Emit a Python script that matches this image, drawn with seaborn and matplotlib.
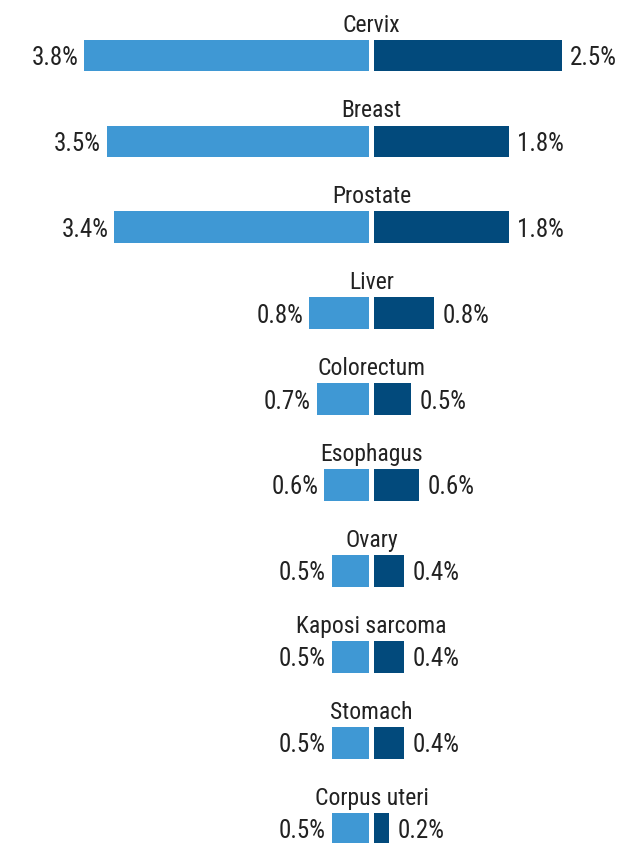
import matplotlib
matplotlib.use("Agg")
import matplotlib.pyplot as plt
import matplotlib.transforms as mtransforms
import seaborn as sns
import pandas as pd

categories = ["Cervix", "Breast", "Prostate", "Liver", "Colorectum", "Esophagus",
              "Ovary", "Kaposi sarcoma", "Stomach", "Corpus uteri"]
left_values = [3.8, 3.5, 3.4, 0.8, 0.7, 0.6, 0.5, 0.5, 0.5, 0.5]
right_values = [2.5, 1.8, 1.8, 0.8, 0.5, 0.6, 0.4, 0.4, 0.4, 0.2]
left_labels = [f"{v:.1f}%" for v in left_values]
right_labels = [f"{v:.1f}%" for v in right_values]

LIGHT = "#3f98d4"
DARK = "#024a7c"
TEXT = "#222222"

sns.set_style("white")
plt.rcParams["font.family"] = ["Roboto Condensed", "DejaVu Sans"]
plt.rcParams["font.stretch"] = "condensed"

W, H = 642, 843
fig = plt.figure(figsize=(W / 100, H / 100), dpi=100)
px_per_unit = 75.0
left_edge, right_edge = 369.0, 374.0
axL = fig.add_axes([0, 0, left_edge / W, 1])
axR = fig.add_axes([right_edge / W, 0, (W - right_edge) / W, 1])

dfL = pd.DataFrame({"cat": categories, "val": left_values})
dfR = pd.DataFrame({"cat": categories, "val": right_values})

sns.barplot(data=dfL, x="val", y="cat", orient="h", color=LIGHT, width=0.37,
            saturation=1, linewidth=0, ax=axL)
sns.barplot(data=dfR, x="val", y="cat", orient="h", color=DARK, width=0.37,
            saturation=1, linewidth=0, ax=axR)

row_px = 85.9
top_center = 55.5
y_top = -top_center / row_px
y_bot = (H - top_center) / row_px
for ax in (axL, axR):
    ax.set_ylim(y_bot, y_top)
    ax.axis("off")
axL.set_xlim(left_edge / px_per_unit, 0)
axR.set_xlim(0, (W - right_edge) / px_per_unit)

fs_num = 18
fs_cat = 17
tl = axL.bar_label(axL.containers[0], labels=left_labels, padding=4.0, fontsize=fs_num,
                   color=TEXT)
tr = axR.bar_label(axR.containers[0], labels=right_labels, padding=6.0, fontsize=fs_num,
                   color=TEXT)
for t in list(tl) + list(tr):
    t.set_va("center_baseline")

trans = mtransforms.blended_transform_factory(fig.transFigure, axR.transData)
for i, c in enumerate(categories):
    fig.text(371.5 / W, i - 0.355, c, transform=trans, ha="center", va="center",
             fontsize=fs_cat, color=TEXT)

fig.savefig("out.png", dpi=100)
